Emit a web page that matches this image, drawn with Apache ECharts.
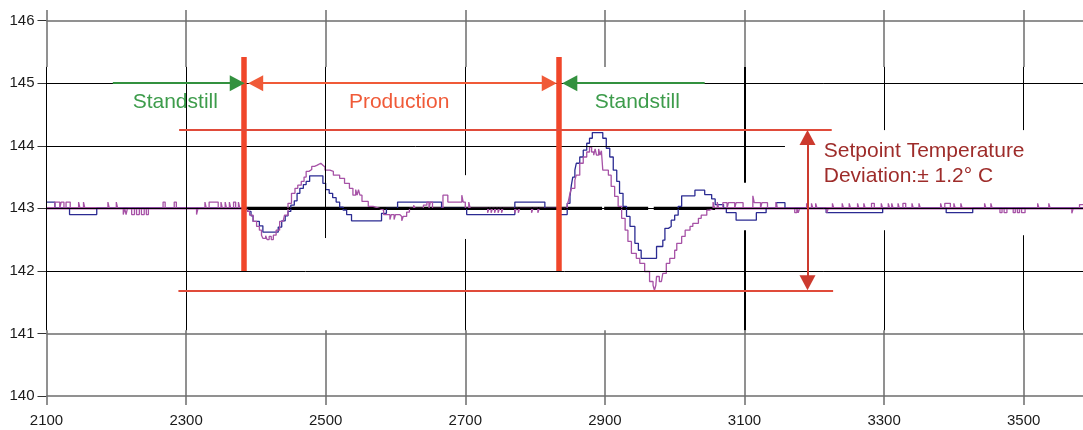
<!DOCTYPE html>
<html><head><meta charset="utf-8">
<script src="https://cdn.jsdelivr.net/npm/echarts@6/dist/echarts.min.js"></script>
<style>html,body{margin:0;padding:0;background:#fff}#c{width:1083px;height:430px}</style>
</head><body><div id="c"></div>
<script>
// ---- data ----
const xTicks = [2100, 2300, 2500, 2700, 2900, 3100, 3300, 3500];
const yTicks = [140, 141, 142, 143, 144, 145, 146];
const setpoint = 143;
const phaseBounds = [2382.7, 2834.4];          // start / end of production
const deviationBand = [141.69, 144.25];       // ±1.2 °C band lines

const blueTrace = [
[2100,143.1],[2112,143],[2133,142.9],[2172,143],[2388,142.95],[2393,142.88],[2396,142.79],[2405,142.72],
[2410,142.62],[2432,142.7],[2437,142.8],[2442,142.88],[2446,142.95],[2450,143.05],[2455,143.12],[2459,143.24],
[2463,143.32],[2468,143.38],[2472,143.43],[2477,143.52],[2496,143.4],[2500,143.3],[2505,143.24],[2510,143.17],
[2515,143.1],[2520,143.02],[2525,142.97],[2530,142.9],[2537,142.8],[2580,142.92],[2587,143.0],[2603,143.1],
[2666,143.0],[2702,142.9],[2771,143.1],[2814,143.0],[2836,142.9],[2846,143.08],[2850,143.19],[2852,143.37],
[2854,143.5],[2857,143.61],[2859,143.72],[2864,143.82],[2869,143.93],[2874,144.04],[2878,144.12],[2882,144.21],
[2897,144.12],[2902,143.96],[2907,143.82],[2912,143.61],[2917,143.43],[2921,143.24],[2926,143.03],[2931,142.87],
[2936,142.71],[2943,142.44],[2948,142.33],[2952,142.2],[2974,142.39],[2983,142.49],[2986,142.68],[2991,142.71],
[2995,142.81],[3000,142.89],[3005,143.03],[3010,143.2],[3029,143.29],[3043,143.22],[3053,143.15],[3058,143.06],
[3070,143.0],[3074,142.93],[3088,142.81],[3117,142.93],[3131,143.0],[3146,143.09],[3158,143.0],[3217,142.93],
[3298,143.0],[3389,142.93],[3427,143.0],[3585,143.0]
];

const purpleTrace = [
[2100,143],[2112,143.1],[2119,143],[2121,143.1],[2125,143],[2128,143.1],[2134,143],[2146,143.1],[2148,143],
[2153,143.1],[2155,143],[2188,143.1],[2190,143],[2200,143.1],[2202,143],[2210,142.9],[2212,143],[2214,142.9],
[2216,143],[2222,142.9],[2226,143],[2229,142.9],[2233,143],[2236,142.9],[2240,143],[2243,142.9],[2246,143],
[2267,143.1],[2270,143],[2283,143.1],[2286,143],[2315,142.9],[2317,143],[2327,143.1],[2329,143],[2333,143.1],
[2346,143],[2350,143.1],[2352,143],[2356,143.1],[2358,143],[2362,143.1],[2364,143],[2368,143.1],[2371,143],
[2375,143.1],[2377,143],
[2388,142.95],[2391,142.89],[2396,142.79],[2401,142.71],[2405,142.65],[2408,142.57],[2410,142.52],[2414,142.56],
[2416,142.5],[2419,142.55],[2422,142.5],[2425,142.57],[2429,142.65],[2434,142.79],[2439,142.81],[2441,142.89],
[2446,143.08],[2451,143.24],[2456,143.32],[2460,143.37],[2465,143.43],[2469,143.5],[2472,143.59],[2476,143.62],
[2480,143.67],[2484,143.69],[2488,143.72],[2493,143.69],[2496,143.66],[2499,143.61],[2506,143.59],[2511,143.53],
[2520,143.48],[2527,143.4],[2534,143.32],[2539,143.21],[2543,143.3],[2545,143.21],[2547,143.3],[2549,143.21],
[2552,143.11],[2561,143.03],[2568,143.0],[2577,142.97],[2583,142.9],[2592,142.82],[2594,142.9],[2598,142.82],
[2600,142.9],[2606,142.87],[2609,142.8],[2611,142.87],[2616,142.94],[2620,143],[2626,143.05],[2628,143],
[2640,143.05],[2645,143.1],[2648,143],[2650,143.1],[2653,143],[2668,143.21],[2675,143.1],[2695,143.21],
[2697,143.1],[2700,143.0],[2705,143.1],[2707,143],[2732,142.93],[2734,143],[2737,142.93],[2739,143],
[2742,142.93],[2744,143],[2747,142.93],[2749,143],[2752,142.93],[2754,143],[2771,142.93],[2773,143],
[2776,142.93],[2778,143],[2795,142.93],[2797,143],[2804,142.93],[2806,143],
[2846,143.05],[2848,143.13],[2850,143.24],[2852,143.32],[2857,143.45],[2859,143.53],[2864,143.72],[2869,143.82],
[2874,143.9],[2878,143.98],[2881,143.9],[2884,143.85],[2886,143.95],[2888,143.85],[2891,143.95],[2893,143.85],
[2895,143.92],[2897,143.61],[2905,143.53],[2909,143.35],[2914,143.19],[2919,143.03],[2924,142.84],[2929,142.65],
[2933,142.47],[2938,142.28],[2945,142.2],[2950,142.12],[2957,141.99],[2964,141.83],[2969,141.77],[2971,141.69],
[2973,141.77],[2974,141.91],[2978,141.83],[2981,141.8],[2983,141.96],[2988,142.12],[2993,142.2],[3000,142.33],
[3003,142.44],[3010,142.55],[3015,142.65],[3022,142.71],[3026,142.76],[3034,142.84],[3038,142.89],[3046,142.97],
[3050,143.0],[3055,143.1],[3057,143],
[3061,143.1],[3063,143],[3069,143.09],[3075,143],[3077,143.09],[3086,143],[3088,143.09],[3098,143],
[3112,143.2],[3114,143.09],[3123,143],[3125,143.09],[3133,143],[3145,143.1],[3147,143],[3172,142.93],
[3175,143],[3177,142.93],[3179,143],[3189,143.08],[3191,143],[3196,143.08],[3198,143],[3202,143.08],
[3204,143],[3218,142.93],[3220,143],[3226,143.08],[3228,143],[3240,143.08],[3242,143],[3250,143.08],
[3252,143],[3262,143.08],[3264,143],[3271,143.08],[3273,143],[3282,143.08],[3286,143],[3296,143.08],
[3298,143],[3306,143.08],[3308,143],[3311,143.08],[3313,143],[3320,143.08],[3322,143],[3327,143.08],
[3331,143],[3340,143.08],[3342,143],[3350,143.08],[3352,143],[3381,143.08],[3383,143],[3387,143.08],
[3395,143],[3400,143.08],[3402,143],[3410,143.08],[3412,143],[3444,143.08],[3446,143],[3453,143.08],
[3455,143],[3466,142.93],[3469,143],[3472,142.93],[3476,143],[3485,142.93],[3488,143],[3491,142.93],
[3494,143],[3497,142.93],[3502,143],[3520,143.08],[3522,143],[3536,143.08],[3538,143],[3569,142.92],
[3571,143],[3580,143.06],[3585,143.06]
];

// ---- styling / layout ----
const X_MIN = 2100, X_MAX = 3585, Y_MIN = 140, Y_MAX = 146.17;
const FONT = '"Liberation Sans", Arial, sans-serif';
const GRAY = '#6c6c6c', BLACK = '#000';
const Y_TOP_SPLIT = 145.26, Y_BOT_SPLIT = 141.05;

// black middle segments of vertical grid lines (gaps where the original was pasted)
const vMid = {
  2100: [[Y_BOT_SPLIT, Y_TOP_SPLIT]],
  2300: [[Y_BOT_SPLIT, Y_TOP_SPLIT]],
  2500: [[142.525, Y_TOP_SPLIT]],
  2700: [[143.53, Y_TOP_SPLIT], [Y_BOT_SPLIT, 142.51]],
  2900: [],
  3100: [[143.41, Y_TOP_SPLIT], [Y_BOT_SPLIT, 142.65]],
  3300: [[144.25, Y_TOP_SPLIT], [Y_BOT_SPLIT, 142.65]],
  3500: [[144.25, Y_TOP_SPLIT], [Y_BOT_SPLIT, 142.57]]
};
const hEnd = {140: X_MAX, 141: X_MAX, 142: X_MAX, 143: X_MAX, 144: 3158, 145: X_MAX, 146: X_MAX};

function seg(x1, y1, x2, y2, color, width) {
  return [{coord: [x1, y1], lineStyle: {color: color, width: width, type: 'solid'}}, {coord: [x2, y2]}];
}
const gridLines = [];
xTicks.forEach(x => {
  gridLines.push(seg(x, Y_TOP_SPLIT, x, Y_MAX, GRAY, 1.5));
  gridLines.push(seg(x, Y_MIN, x, Y_BOT_SPLIT, GRAY, 1.5));
  (vMid[x] || []).forEach(r => gridLines.push(seg(x, r[0], x, r[1], BLACK, x === 3100 ? 2 : 1)));
});
yTicks.forEach(y => {
  const gray = (y === 146 || y === 141 || y === 140);
  gridLines.push(seg(X_MIN, y, hEnd[y], y, gray ? GRAY : BLACK, gray ? 1.5 : 1));
});

const RED_BAR = '#f0462a', PROD = '#f05a38', GREEN = '#33913f', BAND = '#e04b3a', DEV = '#cc3a2e', DEVTXT = '#9e2c2a';
const headPx = 15; // arrow head length
const ux = headPx / 2 / 0.698, uy = headPx / 2 / 62.55;
function arrow(x1, y1, x2, y2, color, width, s1, s2) {
  return [{coord: [x1, y1], symbol: s1, symbolSize: [16, headPx], lineStyle: {color: color, width: width, type: 'solid'}},
          {coord: [x2, y2], symbol: s2, symbolSize: [16, headPx]}];
}
const annoLines = [
  seg(phaseBounds[0], 142.0, phaseBounds[0], 145.42, RED_BAR, 5.5),
  seg(phaseBounds[1], 142.0, phaseBounds[1], 145.42, RED_BAR, 5.5),
  seg(2290, deviationBand[1], 3225, deviationBand[1], BAND, 2),
  seg(2289, deviationBand[0], 3227, deviationBand[0], BAND, 2),
  arrow(2195, 145, 2384 - ux, 145, GREEN, 2, 'none', 'triangle'),
  arrow(2389 + ux, 145, 2831 - ux, 145, PROD, 2, 'triangle', 'triangle'),
  arrow(3043, 145, 2839 + ux, 145, GREEN, 2, 'none', 'triangle'),
  arrow(3190.3, deviationBand[1] - uy, 3190.3, deviationBand[0] + uy, DEV, 2, 'triangle', 'triangle')
];
function txt(x, y, text, color, pos) {
  return {coord: [x, y], symbol: 'circle', symbolSize: 0,
    label: {show: true, formatter: text, color: color, fontSize: 21, fontFamily: FONT,
            position: pos || 'inside', distance: 0}};
}
const annoTexts = [
  txt(2284.5, 144.69, 'Standstill', '#3d9c4b'),
  txt(2605.2, 144.69, 'Production', PROD),
  txt(2946.4, 144.69, 'Standstill', '#3d9c4b'),
  txt(3213.6, 143.92, 'Setpoint Temperature', DEVTXT, 'right'),
  txt(3213.6, 143.52, 'Deviation:\u00b1 1.2\u00b0 C', DEVTXT, 'right')
];

const chart = echarts.init(document.getElementById('c'), null, {renderer: 'canvas'});
chart.setOption({
  animation: false,
  backgroundColor: '#fff',
  grid: {left: 46.5, right: 0, top: 10, bottom: 34, containLabel: false, outerBoundsMode: 'none'},
  xAxis: {
    type: 'value', min: X_MIN, max: X_MAX,
    axisLine: {show: false}, splitLine: {show: false},
    axisTick: {show: true, length: 9, customValues: xTicks, lineStyle: {color: GRAY, width: 1.5}},
    axisLabel: {customValues: xTicks, margin: 17, fontSize: 15, fontFamily: FONT, color: '#1a1a1a',
                formatter: v => String(Math.round(v))}
  },
  yAxis: {
    type: 'value', min: Y_MIN, max: Y_MAX,
    axisLine: {show: false}, splitLine: {show: false},
    axisTick: {show: true, length: 9, customValues: yTicks, lineStyle: {color: '#333', width: 1}},
    axisLabel: {customValues: yTicks, margin: 12, fontSize: 15, fontFamily: FONT, color: '#1a1a1a',
                formatter: v => String(Math.round(v))}
  },
  series: [
    {type: 'line', name: 'grid', z: 1, silent: true, data: [], showSymbol: false,
     markLine: {silent: true, symbol: ['none', 'none'], label: {show: false}, animation: false, data: gridLines}},
    {type: 'line', name: 'setpoint', z: 2, silent: true, showSymbol: false,
     lineStyle: {color: '#000', width: 3.2},
     data: [[phaseBounds[0], setpoint], [2896, setpoint], [2897, null], [2899, setpoint], [2962, setpoint], [2963, null], [2970, setpoint], [3058, setpoint]]},
    {type: 'line', name: 'baseline', z: 2, silent: true, showSymbol: false,
     lineStyle: {color: '#a652a6', width: 2.6},
     data: [[X_MIN, setpoint], [phaseBounds[0], setpoint], [phaseBounds[0] + 1, null], [3058, setpoint], [X_MAX, setpoint]]},
    {type: 'line', name: 'blue', z: 3, step: 'end', silent: true, showSymbol: false,
     lineStyle: {color: '#2b2b92', width: 1.3}, data: blueTrace},
    {type: 'line', name: 'purple', z: 4, step: 'end', silent: true, showSymbol: false,
     lineStyle: {color: '#a652a6', width: 1.3}, data: purpleTrace},
    {type: 'line', name: 'annotations', z: 5, silent: true, data: [], showSymbol: false,
     markLine: {silent: true, symbol: ['none', 'none'], label: {show: false}, animation: false, data: annoLines},
     markPoint: {silent: true, animation: false, data: annoTexts}}
  ]
});
</script></body></html>
